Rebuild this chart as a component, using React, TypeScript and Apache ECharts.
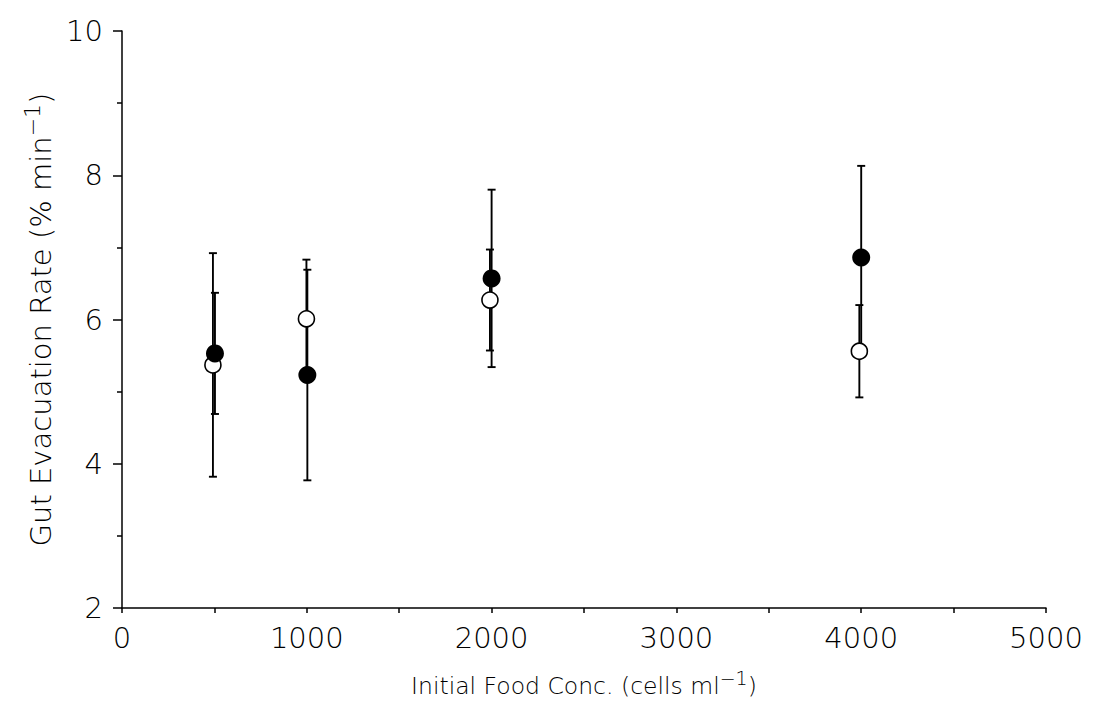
import React, { useEffect, useRef } from "react";
import * as echarts from "echarts";

// Open circles (series 1)
const openX = [492, 998, 1991, 3990];
const openY = [5.37, 6.01, 6.27, 5.56];
const openErr = [1.55, 0.82, 0.7, 0.64];

// Filled circles (series 2)
const filledX = [503, 1003, 2000, 4000];
const filledY = [5.53, 5.23, 6.57, 6.86];
const filledErr = [0.84, 1.46, 1.23, 1.27];

const xTicks = [0, 1000, 2000, 3000, 4000, 5000];
const yTicks = [2, 4, 6, 8, 10];

const FONT = "DejaVu Sans";

export default function App() {
  const ref = useRef<HTMLDivElement>(null);

  useEffect(() => {
    if (!ref.current) return;
    const chart = echarts.init(ref.current, undefined, { renderer: "svg" });

    const errData = [
      ...openX.map((x, i) => [x, openY[i] - openErr[i], openY[i] + openErr[i]]),
      ...filledX.map((x, i) => [x, filledY[i] - filledErr[i], filledY[i] + filledErr[i]]),
    ];

    const renderErr = (params: any, api: any) => {
      const x = api.value(0);
      const lo = api.coord([x, api.value(1)]);
      const hi = api.coord([x, api.value(2)]);
      const cw = 4;
      const style = { stroke: "#000", lineWidth: 1.9 };
      return {
        type: "group",
        children: [
          { type: "line", shape: { x1: hi[0], y1: hi[1], x2: lo[0], y2: lo[1] }, style },
          { type: "line", shape: { x1: hi[0] - cw, y1: hi[1], x2: hi[0] + cw, y2: hi[1] }, style },
          { type: "line", shape: { x1: lo[0] - cw, y1: lo[1], x2: lo[0] + cw, y2: lo[1] }, style },
        ],
      };
    };

    const axisCommon = {
      axisLine: { show: true, lineStyle: { color: "#000", width: 1.5 } },
      splitLine: { show: false },
    };

    chart.setOption({
      animation: false,
      backgroundColor: "#fff",
      grid: { left: 122, top: 31, right: 49, bottom: 115 },
      xAxis: {
        type: "value",
        min: 0,
        max: 5000,
        interval: 1000,
        ...axisCommon,
        axisTick: { show: true, length: 5, lineStyle: { color: "#000", width: 1.5 } },
        minorTick: { show: true, splitNumber: 2, length: 5, lineStyle: { color: "#000", width: 1.5 } },
        axisLabel: {
          margin: 15,
          fontSize: 29,
          fontFamily: FONT,
          fontWeight: 200,
          color: "#000",
          formatter: (v: number) => (xTicks.includes(v) ? String(v) : ""),
        },
        name: "{b|Initial Food Conc. (cells ml}{sup|−1}{b|)}",
        nameLocation: "middle",
        nameGap: 60,
        nameTextStyle: {
          rich: {
            b: { fontSize: 23.5, fontFamily: FONT, fontWeight: 200, color: "#000", lineHeight: 30, verticalAlign: "bottom" },
            sup: { fontSize: 19, fontFamily: FONT, fontWeight: 200, color: "#000", lineHeight: 19, verticalAlign: "top" },
          },
        },
      },
      yAxis: {
        type: "value",
        min: 2,
        max: 10,
        interval: 2,
        ...axisCommon,
        axisTick: { show: true, length: 9, lineStyle: { color: "#000", width: 1.5 } },
        minorTick: { show: true, splitNumber: 2, length: 5, lineStyle: { color: "#000", width: 1.5 } },
        axisLabel: {
          margin: 19,
          fontSize: 29,
          fontFamily: FONT,
          fontWeight: 200,
          color: "#000",
          formatter: (v: number) => (yTicks.includes(v) ? String(v) : ""),
        },
        name: "{b|Gut Evacuation Rate (% min}{sup|−1}{b|)}",
        nameLocation: "middle",
        nameGap: 66,
        nameRotate: 90,
        nameTextStyle: {
          rich: {
            b: { fontSize: 29, fontFamily: FONT, fontWeight: 200, color: "#000", lineHeight: 34, verticalAlign: "bottom" },
            sup: { fontSize: 22, fontFamily: FONT, fontWeight: 200, color: "#000", lineHeight: 22, verticalAlign: "top" },
          },
        },
      },
      series: [
        {
          type: "custom",
          renderItem: renderErr,
          data: errData,
          encode: { x: 0, y: [1, 2] },
          z: 1,
        },
        {
          type: "scatter",
          data: openX.map((x, i) => [x, openY[i]]),
          symbol: "circle",
          symbolSize: 16,
          itemStyle: { color: "#fff", borderColor: "#000", borderWidth: 1.6, opacity: 1 },
          z: 2,
        },
        {
          type: "scatter",
          data: filledX.map((x, i) => [x, filledY[i]]),
          symbol: "circle",
          symbolSize: 18,
          itemStyle: { color: "#000", opacity: 1 },
          z: 3,
        },
      ],
    });

    return () => chart.dispose();
  }, []);

  return (
    <div
      ref={ref}
      style={{ position: "fixed", left: 0, top: 0, width: 1095, height: 723, background: "#fff" }}
    />
  );
}
